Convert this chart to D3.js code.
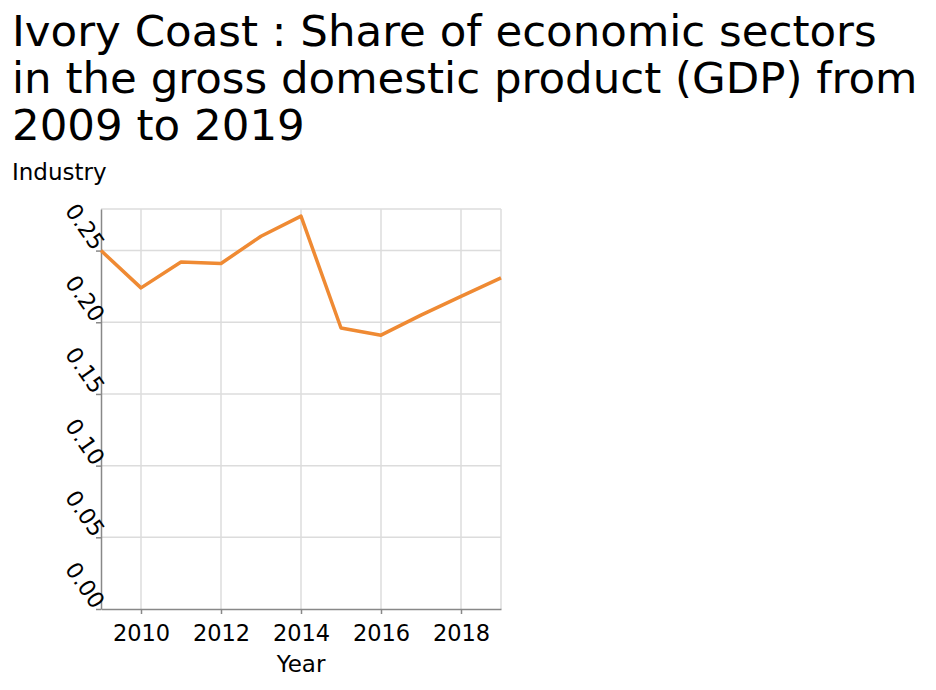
<!DOCTYPE html>
<html>
<head>
<meta charset="utf-8">
<script src="https://cdn.jsdelivr.net/npm/d3@7"></script>
<style>
  body { margin: 0; background: #fff; }
  svg { font-family: "DejaVu Sans", sans-serif; }
</style>
</head>
<body>
<svg id="chart" width="936" height="690"></svg>
<script>
// Industry share of GDP, Ivory Coast
const years = [2009, 2010, 2011, 2012, 2013, 2014, 2015, 2016, 2017, 2018, 2019]
const industry = [0.250, 0.224, 0.242, 0.241, 0.260, 0.274, 0.196, 0.191, 0.205, 0.218, 0.231]
const xTicks = [2010, 2012, 2014, 2016, 2018]
const yTicks = [0, 0.05, 0.10, 0.15, 0.20, 0.25]
const titleLines = [
    "Ivory Coast : Share of economic sectors",
    "in the gross domestic product (GDP) from",
    "2009 to 2019"
]

const [width, height] = [936, 690]
const margin = {top: 209, right: 435, bottom: 81, left: 101}
const color = "#ef8a33"
const grid = "#dcdcdc"
const axisColor = "#888"

const svg = d3.select("#chart")

const x = d3.scaleLinear()
    .domain([2009, 2019])
    .range([margin.left, width - margin.right])
const y = d3.scaleLinear()
    .domain([0, 0.279])
    .range([height - margin.bottom, margin.top])

// title
svg.append("text")
    .attr("x", 12)
    .attr("y", 46)
    .attr("font-size", 43.5)
    .attr("fill", "#000")
    .selectAll("tspan")
    .data(titleLines)
    .join("tspan")
        .attr("x", 12)
        .attr("dy", (d, i) => i ? 47 : 0)
        .text(d => d)

svg.append("text")
    .attr("x", 12)
    .attr("y", 180)
    .attr("font-size", 23)
    .text("Industry")

svg.append("text")
    .attr("x", (x.range()[0] + x.range()[1]) / 2)
    .attr("y", 672)
    .attr("text-anchor", "middle")
    .attr("font-size", 23)
    .text("Year")

// grid
svg.append("g")
    .attr("stroke", grid)
    .attr("stroke-width", 1.5)
    .call(g => g.selectAll("line.v")
        .data(xTicks.concat([2019]))
        .join("line")
            .attr("class", "v")
            .attr("x1", d => x(d)).attr("x2", d => x(d))
            .attr("y1", y.range()[1]).attr("y2", y.range()[0]))
    .call(g => g.selectAll("line.h")
        .data(yTicks.slice(1).concat([y.domain()[1]]))
        .join("line")
            .attr("class", "h")
            .attr("y1", d => y(d)).attr("y2", d => y(d))
            .attr("x1", x.range()[0]).attr("x2", x.range()[1]))

// axes
const xAxis = g => g
    .attr("transform", `translate(0, ${y.range()[0]})`)
    .call(d3.axisBottom(x).tickValues(xTicks).tickFormat(d3.format("d")).tickSize(5).tickSizeOuter(0))
    .call(g => g.selectAll(".domain, .tick line").attr("stroke", axisColor).attr("stroke-width", 1.5))
    .call(g => g.selectAll("text").attr("font-size", 22.5).attr("fill", "#000").attr("dy", "1.05em"))
    .attr("font-family", null)

const yAxis = g => g
    .attr("transform", `translate(${x.range()[0]}, 0)`)
    .call(d3.axisLeft(y).tickValues(yTicks).tickFormat(d3.format(".2f")).tickSize(5).tickSizeOuter(0))
    .call(g => g.selectAll(".domain, .tick line").attr("stroke", axisColor).attr("stroke-width", 1.5))
    .call(g => g.selectAll("text")
        .attr("font-size", 22.5).attr("fill", "#000")
        .attr("text-anchor", "end")
        .attr("x", 0).attr("dy", "0")
        .attr("transform", "rotate(55) translate(-4, 7)"))
    .attr("font-family", null)

svg.append("g").call(xAxis)
svg.append("g").call(yAxis)

// line
const line = d3.line()
    .x((d, i) => x(years[i]))
    .y(d => y(d))

svg.append("path")
    .datum(industry)
    .attr("fill", "none")
    .attr("stroke", color)
    .attr("stroke-width", 3.5)
    .attr("stroke-linejoin", "round")
    .attr("d", line)
</script>
</body>
</html>
